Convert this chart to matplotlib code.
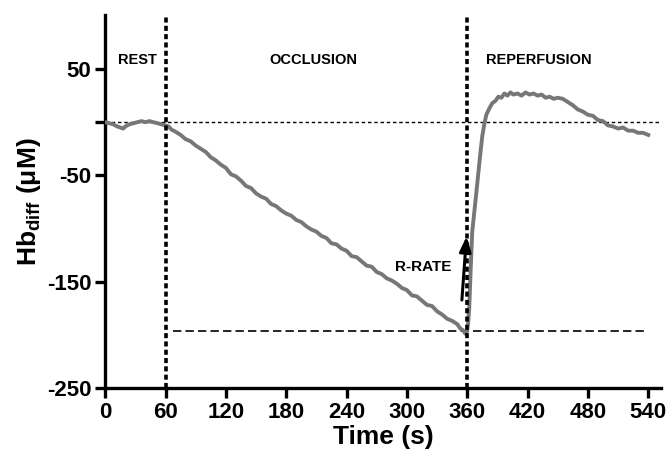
import matplotlib.pyplot as plt

plt.rcParams['font.family'] = ['Liberation Sans', 'DejaVu Sans']
plt.rcParams['mathtext.fontset'] = 'custom'
plt.rcParams['mathtext.rm'] = 'Liberation Sans:bold'

# time (s) and Hb_diff (uM)
time = [0, 4, 8, 12, 18, 20, 24, 28, 32, 36, 40, 44, 48, 52, 56, 60, 63, 66, 70,
        75, 80, 85, 90, 95, 100, 105, 110, 115, 120, 125, 130, 135, 140, 145, 150,
        155, 160, 165, 170, 175, 180, 185, 190, 195, 200, 205, 210, 215, 220, 225,
        230, 235, 240, 245, 250, 255, 260, 265, 270, 275, 280, 285, 290, 295, 300,
        305, 310, 315, 320, 325, 330, 335, 340, 345, 350, 353, 356, 358, 359, 360,
        361, 362, 363, 364, 365, 367, 369, 371, 373, 375, 377, 379, 382, 385, 388,
        391, 394, 397, 400, 403, 406, 410, 414, 418, 422, 426, 430, 434, 438, 442,
        446, 450, 455, 460, 465, 470, 475, 480, 485, 490, 495, 500, 505, 510, 515,
        520, 525, 530, 535, 540]
hb = [0, -1, -2, -4, -6, -4, -2, -1, 0, 1, 0, 1, 0, -1, -2, -3, -4, -7, -9,
      -12, -16, -18, -22, -25, -28, -33, -36, -40, -43, -49, -51, -55, -60, -62, -67,
      -70, -72, -77, -79, -83, -86, -88, -92, -94, -98, -101, -103, -107, -109, -114,
      -115, -119, -121, -126, -127, -131, -135, -136, -141, -143, -147, -149, -152, -156, -158,
      -163, -164, -168, -172, -173, -178, -181, -185, -187, -190, -194, -196, -199, -198, -196,
      -188, -175, -150, -125, -103, -85, -67, -48, -30, -13, -2, 7, 13, 18, 20,
      24, 23, 27, 25, 28, 26, 27, 25, 28, 26, 27, 25, 26, 23, 24,
      22, 23, 22, 19, 16, 12, 10, 7, 6, 2, 1, -3, -4, -6, -5,
      -8, -8, -10, -10, -12]

phase_bounds = [60, 360]
phase_names = ["REST", "OCCLUSION", "REPERFUSION"]
phase_label_x = [32, 207, 431]
min_level = -197

fig = plt.figure(figsize=(6.7, 4.65), dpi=100)
ax = fig.add_axes([0.157, 0.166, 0.83, 0.802])

ax.plot(time, hb, color="#777777", lw=2.8, zorder=3)

for b in phase_bounds:
    ax.axvline(b, color="black", lw=2.6, ls=(0, (1.4, 0.9)), zorder=4)
ax.plot([0, 553], [0, 0], color="black", lw=1.0, ls=(0, (2.5, 2)), zorder=2)
ax.plot([67, 540], [min_level, min_level], color="black", lw=1.2, ls=(0, (5, 2.5)), zorder=2)

for name, x in zip(phase_names, phase_label_x):
    ax.text(x, 59, name, ha="center", va="center", fontsize=10.5, fontweight="bold")

ax.annotate("", xy=(359.5, -105), xytext=(354.5, -170),
            arrowprops=dict(arrowstyle="-|>,head_width=0.35,head_length=0.9",
                            color="black", lw=2.2), zorder=5)
ax.text(316, -136, "R-RATE", ha="center", va="center", fontsize=11, fontweight="bold")

ax.set_xlim(0, 553)
ax.set_ylim(-250, 101)
ax.set_xticks(range(0, 541, 60))
ax.set_yticks([50, 0, -50, -150, -250])
ax.set_yticklabels(["50", "", "-50", "-150", "-250"])
for s in ["top", "right"]:
    ax.spines[s].set_visible(False)
for s in ["left", "bottom"]:
    ax.spines[s].set_linewidth(2.4)
ax.tick_params(width=2.4, length=7, labelsize=16, pad=3)
for lab in ax.get_xticklabels() + ax.get_yticklabels():
    lab.set_fontweight("bold")

ax.set_xlabel("Time (s)", fontsize=19, fontweight="bold", labelpad=2)
ax.set_ylabel(r"Hb$_{\rm diff}$ (μM)", fontsize=19, fontweight="bold", labelpad=3)

fig.savefig("out.png", dpi=100)
